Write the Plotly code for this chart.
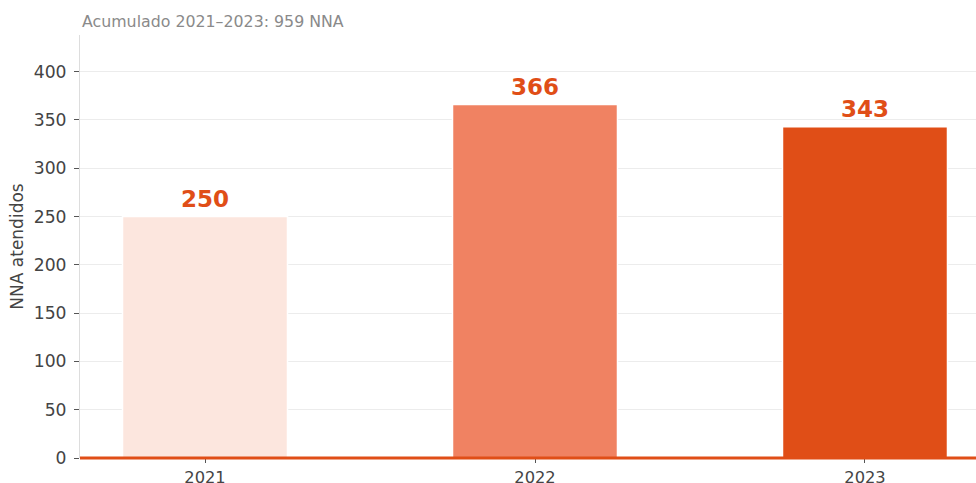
import plotly.graph_objects as go

years = ["2021", "2022", "2023"]
values = [250, 366, 343]
colors = ["#fce6de", "#f08262", "#e04e17"]
y_ticks = [0, 50, 100, 150, 200, 250, 300, 350, 400]
title_text = "Acumulado 2021–2023: 959 NNA"
y_title = "NNA atendidos"

accent = "#e04e17"
font_family = "DejaVu Sans"

fig = go.Figure()
fig.add_trace(go.Bar(
    x=years, y=values, width=0.5,
    marker=dict(color=colors, line=dict(color="white", width=1.5)),
    showlegend=False, hoverinfo="skip",
))

for i, v in enumerate(values):
    fig.add_annotation(
        x=i, y=v, xref="x", yref="y", text=f"<b>{v}</b>", showarrow=False,
        yanchor="bottom", yshift=3,
        font=dict(family=font_family, size=23, color=accent),
    )

# baseline at zero (paper refs so it is not clipped)
fig.add_shape(type="line", xref="paper", x0=0, x1=1, yref="paper", y0=0, y1=0,
              line=dict(color=accent, width=3), layer="above")

fig.update_layout(
    width=976, height=483,
    margin=dict(l=80, r=0, t=35, b=25),
    paper_bgcolor="white", plot_bgcolor="white",
    font=dict(family=font_family, color="#444444"),
    xaxis=dict(
        type="category", range=[-0.3788, 2.3364],
        showgrid=False, zeroline=False, showline=False,
        ticks="outside", ticklen=4, tickcolor="#555555", tickwidth=1,
        tickfont=dict(size=16.3, color="#444444"),
        automargin=False,
    ),
    yaxis=dict(
        range=[0, 438], tickvals=y_ticks,
        showgrid=True, gridcolor="#ececec", gridwidth=1,
        zeroline=False, showline=True, linecolor="#dddddd", linewidth=1,
        ticks="outside", ticklen=5, tickcolor="#555555", tickwidth=1,
        ticklabelstandoff=4,
        tickfont=dict(size=17.2, color="#444444"),
        title=dict(text=y_title, font=dict(size=17, color="#444444"), standoff=5),
        automargin=False,
    ),
)

fig.add_annotation(
    xref="paper", yref="paper", x=0, y=1, xanchor="left", yanchor="bottom",
    yshift=2, text=title_text, showarrow=False,
    font=dict(family=font_family, size=15.8, color="#8a8a8a"),
)

fig.write_html("out.html", config={"displayModeBar": False},
               post_script="document.body.style.margin='0px';")
